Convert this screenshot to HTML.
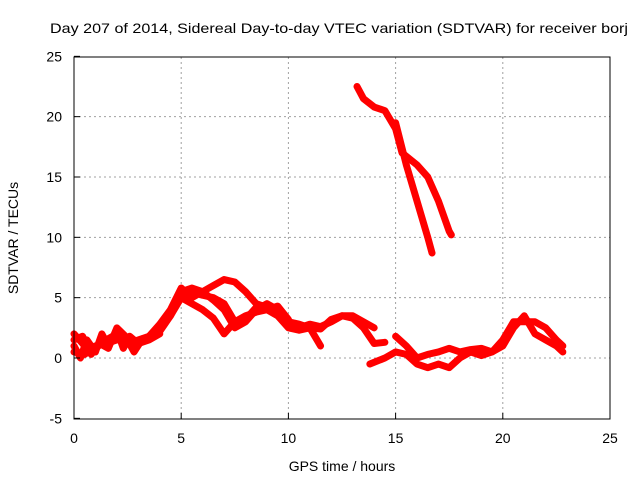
<!DOCTYPE html>
<html><head><meta charset="utf-8"><style>
body{margin:0;background:#fff}
svg text{font-family:"Liberation Sans",sans-serif;font-size:14px;fill:#000}
</style></head><body>
<svg id="c" width="640" height="480" xmlns="http://www.w3.org/2000/svg">
<rect width="640" height="480" fill="#fff"/>
<text x="339" y="33" text-anchor="middle" textLength="578" lengthAdjust="spacingAndGlyphs">Day 207 of 2014, Sidereal Day-to-day VTEC variation (SDTVAR) for receiver borj</text>
<text x="342" y="471" text-anchor="middle">GPS time / hours</text>
<text transform="translate(18,238) rotate(-90)" text-anchor="middle">SDTVAR / TECUs</text>
<g id="grid"></g><g id="series"></g>
<rect x="74" y="57" width="536" height="362" fill="none" stroke="#000" stroke-width="1"/>
</svg>
<script>
const xTicks=[0,5,10,15,20,25];
const yTicks=[-5,0,5,10,15,20,25];
const t1h=[0,0.5,1,1.5,2,2.5,3,3.5,4,4.5,5,5.5,6,6.5,7,7.5,8,8.5,9,9.5,10,10.5,11,11.5,12,12.5,13,13.5,14];
const t1v=[2,1,0.8,1.5,2,1.2,1.5,1.8,2.8,4,5.8,5,5.5,4.8,4,2.5,3,4,4.5,4,3,2.5,2.8,2.6,3,3.5,3.5,3,2.5];
const t2h=[0,0.5,1,1.5,2,2.5,3,3.5,4,4.5,5,5.5,6,6.5,7,7.5,8,8.5,9,9.5,10,10.5,11,11.5];
const t2v=[0.5,0.3,1,1.2,1.5,1.5,1.3,1.8,2.5,3.5,5,4.5,4,3.3,2,3,3.5,3.8,4,3.5,2.5,2.3,2.5,1];
const t3h=[5,5.5,6,6.5,7,7.5,8,8.5,9,9.5,10,10.5,11,11.5,12,12.5,13,13.5,14,14.5];
const t3v=[5.5,5.8,5.5,6,6.5,6.3,5.5,4.5,4.2,3.8,3,2.8,2.5,2.4,3.2,3.5,3.3,2.5,1.2,1.3];
const t4h=[13.8,14.5,15,15.5,16,16.5,17,17.5,18,18.5,19,19.5,20,20.5,21,21.5,22,22.5,22.8];
const t4v=[-0.5,0,0.5,0.3,-0.5,-0.8,-0.5,-0.8,0,0.5,0.2,0.5,1,2.5,3.5,2,1.5,1,0.5];
const t5h=[15,15.5,16,16.5,17,17.5,18,18.5,19,19.5,20,20.5,21,21.5,22,22.5,22.8];
const t5v=[1.8,1,0,0.3,0.5,0.8,0.5,0.7,0.8,0.5,1.5,3,3,3,2.5,1.5,1];
const t6h=[13.2,13.5,14,14.5,15,15.3,16,16.5,17,17.5,17.6];
const t6v=[22.5,21.5,20.8,20.5,19,17,16,15,13,10.5,10.2];
const t7h=[15,15.5,16,16.5,16.7];
const t7v=[19.5,16,13,10,8.7];
const t8h=[0,0.3,0.6,1,1.3,1.6,2,2.3,2.6,3,3.5,4];
const t8v=[1,0,1.5,0.5,2,1,2.3,0.8,1.8,1.2,1.5,2];
const t9h=[0,0.4,0.8,1.2,1.6,2,2.4,2.8,3.2];
const t9v=[1.5,1.8,0.3,1.2,0.8,2.5,1.8,0.5,1.6];
const t10h=[4,4.5,5,5.5,6,6.5,7,7.5,8,8.5,9,9.5,10];
const t10v=[2.2,3.5,5.2,5.5,5.2,5,4.5,3,3.2,4.2,4,4.3,3.2];
const X=h=>74+h*536/25, Y=v=>358-v*362/30;
const NS='http://www.w3.org/2000/svg', svg=document.getElementById('c');
const grid=document.getElementById('grid'), ser=document.getElementById('series');
function mk(tag,at,p){const e=document.createElementNS(NS,tag);for(const k in at)e.setAttribute(k,at[k]);p.appendChild(e);return e;}
xTicks.forEach(t=>{
  if(t>0&&t<25){const g=mk('line',{x1:X(t),x2:X(t),y1:57,y2:419,stroke:'#a0a0a0','stroke-dasharray':'2,3'},grid);
  
  }
  const tk=mk('text',{x:X(t),y:443,'text-anchor':'middle'},svg);tk.textContent=t;
  
  
  mk('line',{x1:X(t),x2:X(t),y1:419,y2:413,stroke:'#000'},svg);
});
yTicks.forEach(t=>{
  if(t>-5&&t<25){const g=mk('line',{x1:74,x2:610,y1:Y(t),y2:Y(t),stroke:'#a0a0a0','stroke-dasharray':'2,3'},grid);
  
  }
  const tk=mk('text',{x:62,y:Y(t)+5,'text-anchor':'end'},svg);tk.textContent=t;
  
  
  mk('line',{x1:74,x2:80,y1:Y(t),y2:Y(t),stroke:'#000'},svg);
});
[[t1h,t1v],[t2h,t2v],[t3h,t3v],[t4h,t4v],[t5h,t5v],[t6h,t6v],[t7h,t7v],[t8h,t8v],[t9h,t9v],[t10h,t10v]].forEach((s,i)=>{
  const pts=s[0].map((h,j)=>X(h)+','+Y(s[1][j])).join(' ');
  const p=mk('polyline',{points:pts,fill:'none',stroke:'#f00','stroke-width':7,'stroke-linejoin':'round','stroke-linecap':'round'},ser);
  
  
});
</script>
</body></html>
